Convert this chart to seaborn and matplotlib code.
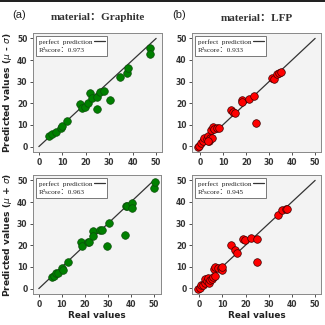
import numpy as np
import pandas as pd
import seaborn as sns
import matplotlib
matplotlib.use("Agg")
import matplotlib.pyplot as plt
from matplotlib.patches import Rectangle

sns.set_theme(style="ticks")
plt.rcParams["font.family"] = ["DejaVu Sans", "Noto Sans CJK SC"]

# Graphite, mu - sigma
g_lo_real = [4.4, 5.6, 7.4, 9.6, 9.8, 12.2, 17.7, 18.4, 19.7, 20.8, 21.9, 22.5,
             24.6, 24.7, 26.1, 27.8, 30.5, 34.8, 37.5, 37.8, 47.2, 47.2]
g_lo_pred = [4.8, 5.9, 6.7, 8.5, 9.3, 11.6, 19.8, 18.0, 18.3, 20.3, 24.9, 22.4,
             17.3, 22.8, 25.4, 25.5, 21.7, 32.0, 34.2, 36.4, 45.5, 42.7]

# LFP, mu - sigma
l_lo_real = [-1.0, -0.3, 0.4, 1.4, 1.8, 2.8, 3.3, 3.8, 4.2, 4.7, 5.2, 5.5, 5.9,
             7.4, 8.1, 3.3, 13.5, 14.2, 15.0, 18.0, 18.3, 21.1, 23.5, 24.1,
             31.3, 32.3, 33.6, 34.3, 35.0]
l_lo_pred = [-0.2, 0.3, 1.4, 2.3, 3.9, 3.3, 4.5, 2.3, 4.0, 7.3, 3.9, 9.0, 7.9,
             8.2, 8.5, 2.2, 16.9, 15.7, 15.2, 21.3, 20.5, 22.0, 23.4, 10.9,
             31.5, 31.1, 33.7, 34.0, 34.3]

# Graphite, mu + sigma
g_hi_real = [5.7, 6.4, 7.4, 8.2, 10.2, 10.4, 12.8, 18.5, 18.6, 21.6, 22.0, 23.4,
             23.6, 26.8, 27.4, 29.8, 30.7, 37.4, 38.1, 38.5, 40.5, 40.5, 50.1, 50.6]
g_hi_pred = [5.3, 5.7, 7.0, 7.1, 9.4, 8.8, 12.4, 21.4, 19.5, 21.5, 21.5, 26.6,
             24.3, 26.9, 26.9, 19.5, 30.5, 24.6, 38.4, 38.4, 39.5, 37.3, 46.4, 49.4]

# LFP, mu + sigma
l_hi_real = [-0.6, 0.3, 0.8, 1.6, 2.3, 2.5, 3.2, 3.8, 4.1, 4.7, 5.5, 6.1, 6.2,
             6.8, 6.9, 8.3, 9.5, 9.9, 9.8, 13.7, 15.3, 16.1, 18.8, 19.6, 22.3,
             24.7, 24.9, 33.8, 35.6, 37.3, 37.9]
l_hi_pred = [-0.2, 0.3, 1.4, 1.4, 2.3, 4.3, 3.4, 4.8, 2.5, 3.6, 4.2, 5.0, 8.7,
             9.6, 5.6, 9.3, 9.3, 8.5, 9.8, 20.0, 17.7, 16.5, 22.7, 22.4, 23.3,
             22.8, 12.3, 33.9, 36.3, 36.6, 36.8]

r2_scores = ["0.973", "0.933", "0.963", "0.945"]
materials = ["Graphite", "LFP"]
panel_tags = ["(a)", "(b)"]
ylabels = [r"Predicted values ($\mu$ - $\sigma$)", r"Predicted values ($\mu$ + $\sigma$)"]
ideal_x = [0, 50]
ticks = [0, 10, 20, 30, 40, 50]

panels = [
    (g_lo_real, g_lo_pred, "green", "#0b4d0b"),
    (l_lo_real, l_lo_pred, "red", "#3a0000"),
    (g_hi_real, g_hi_pred, "green", "#0b4d0b"),
    (l_hi_real, l_hi_pred, "red", "#3a0000"),
]

fig = plt.figure(figsize=(3.25, 3.25), dpi=100)
fig.patch.set_facecolor("white")

# axes rectangles in pixels: left, top, right, bottom
W, H = 325.0, 325.0
boxes = [
    (33, 33, 162, 152),
    (192, 33, 321, 152),
    (33, 175, 161, 294),
    (192, 175, 321, 294),
]

serif = ["Liberation Serif", "Noto Sans CJK SC"]
sans = ["Liberation Sans", "DejaVu Sans"]

for i, ((xr, yp, fc, ec), (x0, y0, x1, y1)) in enumerate(zip(panels, boxes)):
    ax = fig.add_axes([x0 / W, 1 - y1 / H, (x1 - x0) / W, (y1 - y0) / H])
    ax.set_facecolor("#f3f3f3")
    line, = ax.plot(ideal_x, ideal_x, color="#333333", lw=0.9, zorder=1)
    df = pd.DataFrame({"real": xr, "pred": yp})
    sns.scatterplot(data=df, x="real", y="pred", ax=ax, color=fc,
                    edgecolor=ec, linewidth=0.5, s=30, zorder=3, legend=False)
    ax.set_xticks(ticks)
    ax.set_yticks(ticks)
    ax.tick_params(labelsize=5.5, length=2.5, width=0.6, pad=1.5, colors="#333333")
    for lab in ax.get_xticklabels() + ax.get_yticklabels():
        lab.set_fontweight("bold")
    for sp in ax.spines.values():
        sp.set_color("#888888")
        sp.set_linewidth(0.7)
    ax.set_xlabel("")
    ax.set_ylabel("")
    if i % 2 == 0:
        ax.set_ylabel(ylabels[i // 2], fontsize=6.6, fontweight="bold", labelpad=2,
                      color="#222222")
    if i >= 2:
        ax.set_xlabel("Real values", fontsize=6.4, fontweight="bold", labelpad=1.5,
                      color="#222222")
    if i < 2:
        ax.set_title(f"material：{materials[i]}", fontsize=8, fontweight="bold",
                     family=serif, pad=9, color="#333333")
    blank = plt.Line2D([], [], color="none")
    leg = ax.legend([line, blank], ["perfect  prediction", f"R²score：{r2_scores[i]}"],
                    loc="upper left", markerfirst=False, handlelength=1.4,
                    handletextpad=0.3, borderpad=0.4, labelspacing=0.25,
                    fancybox=False, framealpha=1, edgecolor="#777777",
                    prop={"family": serif, "size": 5.2}, borderaxespad=0.4)
    for col in leg._legend_handle_box.get_children():
        col.align = "left"
    leg.get_frame().set_linewidth(0.7)

fig.text(12 / W, 1 - 15 / H, panel_tags[0], fontsize=8, family=sans,
         ha="left", va="center", color="#222222")
fig.text(172 / W, 1 - 15 / H, panel_tags[1], fontsize=8, family=sans,
         ha="left", va="center", color="#222222")

# thin dark band across the top edge
fig.patches.append(Rectangle((0, 1 - 2 / H), 1, 2 / H, transform=fig.transFigure,
                             facecolor="#222222", edgecolor="none", zorder=0))

fig.savefig("out.png", dpi=100)
